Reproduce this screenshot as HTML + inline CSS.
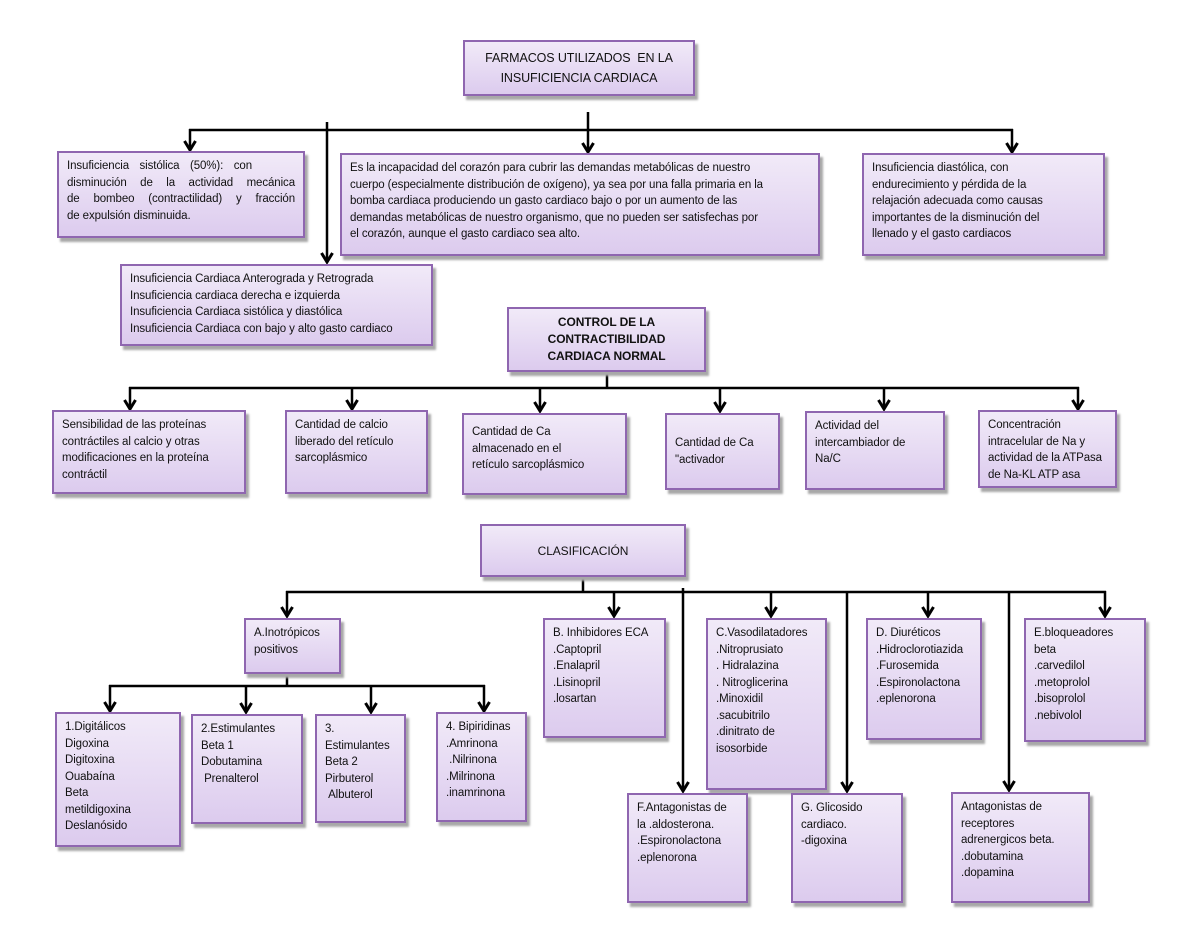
<!DOCTYPE html>
<html><head><meta charset="utf-8"><style>
body{margin:0;width:1200px;height:927px;background:#fff;position:relative;overflow:hidden;font-family:"Liberation Sans",sans-serif;}
.b{position:absolute;box-sizing:border-box;border:2px solid #8f66b0;background:linear-gradient(#f1eaf8,#dccbee);box-shadow:3px 4px 2px #a8a8a8;font-size:11.5px;line-height:16.5px;color:#111;padding:5px 8px;white-space:nowrap;letter-spacing:-0.1px;overflow:hidden;}
.c{text-align:center;}
.j span{display:block;text-align:justify;text-align-last:justify;}
svg{position:absolute;left:0;top:0;}
</style></head><body>
<svg width="1200" height="927">
<defs>
<marker id="v" markerWidth="14" markerHeight="14" refX="7" refY="11" markerUnits="userSpaceOnUse"><polyline points="1.5,2 7,11 12.5,2" fill="none" stroke="#000" stroke-width="3"/></marker></defs>
<g stroke="#000" stroke-width="2.5" fill="none">
<line x1="588" y1="112" x2="588" y2="130"/>
<line x1="189" y1="130" x2="1013" y2="130"/>
<line x1="190" y1="129" x2="190" y2="150" marker-end="url(#v)"/>
<line x1="588" y1="129" x2="588" y2="152" marker-end="url(#v)"/>
<line x1="1012" y1="129" x2="1012" y2="152" marker-end="url(#v)"/>
<line x1="327" y1="122" x2="327" y2="262" marker-end="url(#v)"/>
<line x1="607" y1="372" x2="607" y2="388"/>
<line x1="129" y1="388" x2="1079" y2="388"/>
<line x1="130" y1="387" x2="130" y2="409" marker-end="url(#v)"/>
<line x1="352" y1="387" x2="352" y2="409" marker-end="url(#v)"/>
<line x1="540" y1="387" x2="540" y2="411" marker-end="url(#v)"/>
<line x1="720" y1="387" x2="720" y2="411" marker-end="url(#v)"/>
<line x1="884" y1="387" x2="884" y2="409" marker-end="url(#v)"/>
<line x1="1078" y1="387" x2="1078" y2="409" marker-end="url(#v)"/>
<line x1="583" y1="577" x2="583" y2="592"/>
<line x1="286" y1="592" x2="1106" y2="592"/>
<line x1="287" y1="591" x2="287" y2="616" marker-end="url(#v)"/>
<line x1="614" y1="591" x2="614" y2="616" marker-end="url(#v)"/>
<line x1="771" y1="591" x2="771" y2="616" marker-end="url(#v)"/>
<line x1="928" y1="591" x2="928" y2="616" marker-end="url(#v)"/>
<line x1="1105" y1="591" x2="1105" y2="616" marker-end="url(#v)"/>
<line x1="683" y1="588" x2="683" y2="791" marker-end="url(#v)"/>
<line x1="847" y1="591" x2="847" y2="791" marker-end="url(#v)"/>
<line x1="1009" y1="591" x2="1009" y2="790" marker-end="url(#v)"/>
<line x1="287" y1="672" x2="287" y2="686"/>
<line x1="109" y1="686" x2="485" y2="686"/>
<line x1="110" y1="685" x2="110" y2="711" marker-end="url(#v)"/>
<line x1="246" y1="685" x2="246" y2="712" marker-end="url(#v)"/>
<line x1="371" y1="685" x2="371" y2="712" marker-end="url(#v)"/>
<line x1="484" y1="685" x2="484" y2="711" marker-end="url(#v)"/>
</g></svg>

<div class="b c" style="left:463px;top:40px;width:232px;height:56px;font-size:12.5px;line-height:20px;padding-top:6px">FARMACOS UTILIZADOS &nbsp;EN LA<br>INSUFICIENCIA CARDIACA</div>
<div class="b j" style="left:57px;top:151px;width:248px;height:87px"><span style="width:185px">Insuficiencia sistólica (50%): con</span><span>disminución de la actividad mecánica</span><span>de bombeo (contractilidad) y fracción</span>de expulsión disminuida.</div>
<div class="b" style="left:340px;top:153px;width:480px;height:103px">Es la incapacidad del corazón para cubrir las demandas metabólicas de nuestro<br>cuerpo (especialmente distribución de oxígeno), ya sea por una falla primaria en la<br>bomba cardiaca produciendo un gasto cardiaco bajo o por un aumento de las<br>demandas metabólicas de nuestro organismo, que no pueden ser satisfechas por<br>el corazón, aunque el gasto cardiaco sea alto.</div>
<div class="b" style="left:862px;top:153px;width:243px;height:103px">Insuficiencia diastólica, con<br>endurecimiento y pérdida de la<br>relajación adecuada como causas<br>importantes de la disminución del<br>llenado y el gasto cardiacos</div>
<div class="b" style="left:120px;top:264px;width:313px;height:82px">Insuficiencia Cardiaca Anterograda y Retrograda<br>Insuficiencia cardiaca derecha e izquierda<br>Insuficiencia Cardiaca sistólica y diastólica<br>Insuficiencia Cardiaca con bajo y alto gasto cardiaco</div>
<div class="b c" style="left:507px;top:307px;width:199px;height:65px;font-weight:bold;font-size:12px;line-height:17px;padding-top:5px">CONTROL DE LA<br>CONTRACTIBILIDAD<br>CARDIACA NORMAL</div>
<div class="b" style="left:52px;top:410px;width:194px;height:84px">Sensibilidad de las proteínas<br>contráctiles al calcio y otras<br>modificaciones en la proteína<br>contráctil</div>
<div class="b" style="left:285px;top:410px;width:143px;height:84px">Cantidad de calcio<br>liberado del retículo<br>sarcoplásmico</div>
<div class="b" style="left:462px;top:413px;width:165px;height:82px;padding-top:9px">Cantidad de Ca<br>almacenado en el<br>retículo sarcoplásmico</div>
<div class="b" style="left:665px;top:413px;width:115px;height:77px;padding-top:20px">Cantidad de Ca<br>"activador</div>
<div class="b" style="left:805px;top:411px;width:140px;height:79px">Actividad del<br>intercambiador de<br>Na/C</div>
<div class="b" style="left:978px;top:410px;width:139px;height:78px">Concentración<br>intracelular de Na y<br>actividad de la ATPasa<br>de Na-KL ATP asa</div>
<div class="b c" style="left:480px;top:524px;width:206px;height:53px;font-size:12px;line-height:50px;padding:0">CLASIFICACIÓN</div>
<div class="b" style="left:244px;top:618px;width:97px;height:56px">A.Inotrópicos<br>positivos</div>
<div class="b" style="left:543px;top:618px;width:123px;height:120px">B. Inhibidores ECA<br>.Captopril<br>.Enalapril<br>.Lisinopril<br>.losartan</div>
<div class="b" style="left:706px;top:618px;width:121px;height:172px">C.Vasodilatadores<br>.Nitroprusiato<br>. Hidralazina<br>. Nitroglicerina<br>.Minoxidil<br>.sacubitrilo<br>.dinitrato de<br>isosorbide</div>
<div class="b" style="left:866px;top:618px;width:116px;height:122px">D. Diuréticos<br>.Hidroclorotiazida<br>.Furosemida<br>.Espironolactona<br>.eplenorona</div>
<div class="b" style="left:1024px;top:618px;width:122px;height:124px">E.bloqueadores<br>beta<br>.carvedilol<br>.metoprolol<br>.bisoprolol<br>.nebivolol</div>
<div class="b" style="left:55px;top:712px;width:126px;height:135px">1.Digitálicos<br>Digoxina<br>Digitoxina<br>Ouabaína<br>Beta<br>metildigoxina<br>Deslanósido</div>
<div class="b" style="left:191px;top:714px;width:112px;height:110px">2.Estimulantes<br>Beta 1<br>Dobutamina<br>&nbsp;Prenalterol</div>
<div class="b" style="left:315px;top:714px;width:91px;height:109px">3.<br>Estimulantes<br>Beta 2<br>Pirbuterol<br>&nbsp;Albuterol</div>
<div class="b" style="left:436px;top:712px;width:91px;height:110px">4. Bipiridinas<br>.Amrinona<br>&nbsp;.Nilrinona<br>.Milrinona<br>.inamrinona</div>
<div class="b" style="left:627px;top:793px;width:121px;height:110px">F.Antagonistas de<br>la .aldosterona.<br>.Espironolactona<br>.eplenorona</div>
<div class="b" style="left:791px;top:793px;width:112px;height:110px">G. Glicosido<br>cardiaco.<br>-digoxina</div>
<div class="b" style="left:951px;top:792px;width:139px;height:111px">Antagonistas de<br>receptores<br>adrenergicos beta.<br>.dobutamina<br>.dopamina</div>
</body></html>
